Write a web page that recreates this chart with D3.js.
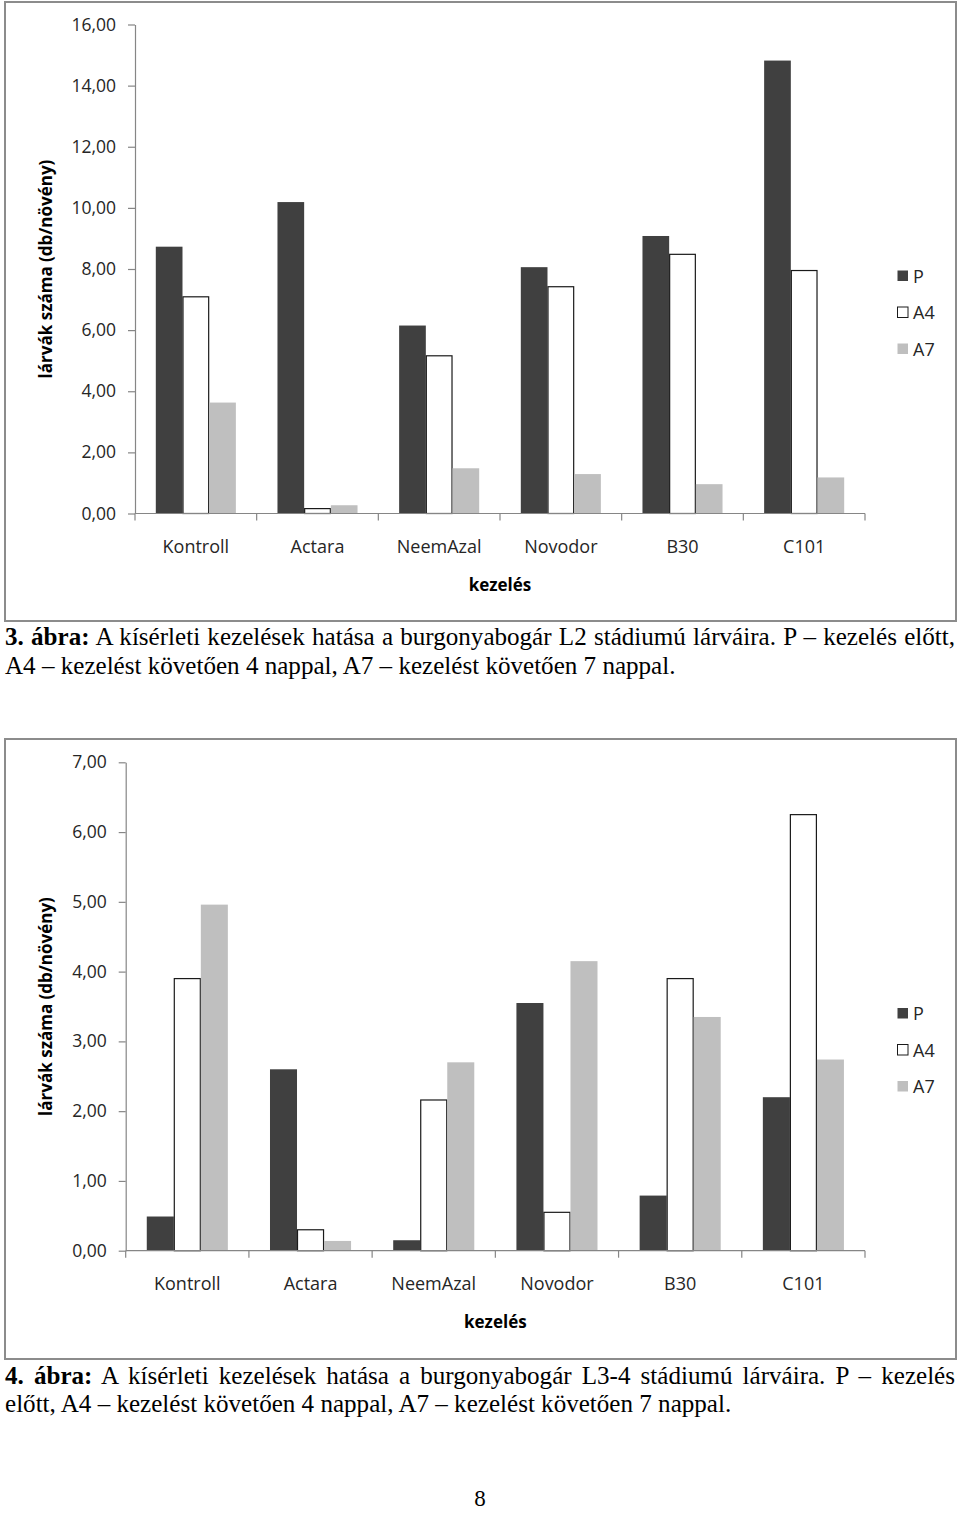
<!DOCTYPE html>
<html>
<head>
<meta charset="utf-8">
<script src="https://cdn.jsdelivr.net/npm/d3@7"></script>
<style>
  html, body { margin: 0; padding: 0; background: #fff; }
  svg { display: block; }
</style>
</head>
<body>
<svg id="page" width="960" height="1513"></svg>
<script>
// ---------- DATA ----------
const categories = ["Kontroll", "Actara", "NeemAzal", "Novodor", "B30", "C101"];
const seriesNames = ["P", "A4", "A7"];

// 3. ábra (L2 stádium)
const fig3P  = [8.73, 10.19, 6.15, 8.06, 9.08, 14.82];
const fig3A4 = [7.09, 0.16, 5.16, 7.42, 8.48, 7.95];
const fig3A7 = [3.63, 0.27, 1.48, 1.29, 0.96, 1.18];
const fig3Ticks = [0, 2, 4, 6, 8, 10, 12, 14, 16];

// 4. ábra (L3-4 stádium)
const fig4P  = [0.49, 2.60, 0.15, 3.55, 0.79, 2.20];
const fig4A4 = [3.90, 0.30, 2.16, 0.55, 3.90, 6.25];
const fig4A7 = [4.96, 0.14, 2.70, 4.15, 3.35, 2.74];
const fig4Ticks = [0, 1, 2, 3, 4, 5, 6, 7];

const yTitle = "lárvák száma (db/növény)";
const xTitle = "kezelés";

const caption3 = [
  { bold: "3. ábra:", text: " A kísérleti kezelések hatása a burgonyabogár L2 stádiumú lárváira. P – kezelés előtt,", justify: true },
  { bold: "", text: "A4 – kezelést követően 4 nappal, A7 – kezelést követően 7 nappal.", justify: false }
];
const caption4 = [
  { bold: "4. ábra:", text: " A kísérleti kezelések hatása a burgonyabogár L3-4 stádiumú lárváira. P – kezelés", justify: true },
  { bold: "", text: "előtt, A4 – kezelést követően 4 nappal, A7 – kezelést követően 7 nappal.", justify: false }
];
const pageNumber = "8";

// ---------- STYLE ----------
const colors = { P: "#404040", A4: "#ffffff", A7: "#bfbfbf" };
const strokes = { P: "none", A4: "#1a1a1a", A7: "none" };
const axisColor = "#868686";
const textColor = "#262626";
const chartFont = "'Open Sans', 'Noto Sans', sans-serif";
const serifFont = "'Liberation Serif', 'DejaVu Serif', serif";

const svg = d3.select("#page");
const fmt = v => d3.format(".2f")(v).replace(".", ",");

function drawChart(cfg) {
  const g = svg.append("g");
  // frame
  g.append("rect")
    .attr("x", cfg.frame.x).attr("y", cfg.frame.y)
    .attr("width", cfg.frame.w).attr("height", cfg.frame.h)
    .attr("fill", "#fff").attr("stroke", "#8c8c8c").attr("stroke-width", 2);

  const x0 = d3.scaleBand().domain(categories).range([cfg.left, cfg.right]).paddingInner(0).paddingOuter(0);
  const gapHalf = x0.bandwidth() * 0.171;
  const x1 = d3.scaleBand().domain(seriesNames).range([gapHalf, x0.bandwidth() - gapHalf]).padding(0);
  const y = d3.scaleLinear().domain([0, d3.max(cfg.ticks)]).range([cfg.bottom, cfg.top]);

  const rows = categories.map((c, i) => ({
    cat: c,
    vals: seriesNames.map(s => ({ s, v: cfg.series[s][i] }))
  }));

  // bars
  const grp = g.append("g").selectAll("g").data(rows).join("g")
    .attr("transform", d => `translate(${x0(d.cat)},0)`);
  grp.selectAll("rect").data(d => d.vals).join("rect")
    .attr("x", d => x1(d.s) + (d.s === "A4" ? 0.5 : 0))
    .attr("y", d => y(d.v))
    .attr("width", d => x1.bandwidth() - (d.s === "A4" ? 1 : 0))
    .attr("height", d => y(0) - y(d.v))
    .attr("fill", d => colors[d.s])
    .attr("stroke", d => strokes[d.s])
    .attr("stroke-width", 1.2);

  // y axis
  const yAxis = g.append("g").attr("transform", `translate(${cfg.left},0)`)
    .call(d3.axisLeft(y).tickValues(cfg.ticks).tickFormat(fmt).tickSize(7).tickSizeOuter(0).tickPadding(12));
  yAxis.selectAll("path,line").attr("stroke", axisColor).attr("stroke-width", 1.2);
  yAxis.selectAll("text").attr("font-family", chartFont).attr("font-size", 17.5).attr("fill", textColor);

  // x axis line and boundary ticks
  const xg = g.append("g");
  xg.append("line").attr("x1", cfg.left).attr("x2", cfg.right)
    .attr("y1", y(0)).attr("y2", y(0)).attr("stroke", axisColor).attr("stroke-width", 1.2);
  const bounds = categories.map(c => x0(c)).concat([x0(categories[categories.length - 1]) + x0.bandwidth()]);
  xg.selectAll("line.tk").data(bounds).join("line").attr("class", "tk")
    .attr("x1", d => d).attr("x2", d => d)
    .attr("y1", y(0)).attr("y2", y(0) + 7)
    .attr("stroke", axisColor).attr("stroke-width", 1.2);
  xg.selectAll("text.cat").data(categories).join("text").attr("class", "cat")
    .attr("x", d => x0(d) + x0.bandwidth() / 2)
    .attr("y", y(0) + 39)
    .attr("text-anchor", "middle")
    .attr("font-family", chartFont).attr("font-size", 18).attr("fill", textColor)
    .text(d => d);

  // axis titles
  g.append("text")
    .attr("x", (cfg.left + cfg.right) / 2).attr("y", y(0) + 77.5)
    .attr("text-anchor", "middle")
    .attr("font-family", chartFont).attr("font-size", 17).attr("font-weight", "bold").attr("fill", "#000")
    .text(xTitle);
  g.append("text")
    .attr("transform", `translate(${cfg.titleX},${(cfg.top + cfg.bottom) / 2}) rotate(-90)`)
    .attr("text-anchor", "middle")
    .attr("font-family", chartFont).attr("font-size", 17).attr("font-weight", "bold").attr("fill", "#000")
    .text(yTitle);

  // legend
  const lg = g.append("g").selectAll("g").data(seriesNames).join("g")
    .attr("transform", (d, i) => `translate(897,${cfg.legendY + i * 36.5})`);
  lg.append("rect").attr("x", 0.5).attr("y", -5.5).attr("width", 10.5).attr("height", 10.5)
    .attr("fill", d => colors[d]).attr("stroke", d => strokes[d]).attr("stroke-width", 1);
  lg.append("text").attr("x", 16).attr("y", 6.5)
    .attr("font-family", chartFont).attr("font-size", 18).attr("fill", textColor)
    .text(d => d);
}

drawChart({
  frame: { x: 5, y: 2, w: 951, h: 619 },
  left: 135, right: 865, top: 24.5, bottom: 513.5,
  ticks: fig3Ticks,
  series: { P: fig3P, A4: fig3A4, A7: fig3A7 },
  titleX: 52, legendY: 276
});

drawChart({
  frame: { x: 5, y: 739, w: 951, h: 620 },
  left: 125.7, right: 865, top: 762.3, bottom: 1250.7,
  ticks: fig4Ticks,
  series: { P: fig4P, A4: fig4A4, A7: fig4A7 },
  titleX: 52, legendY: 1013.5
});

// captions (slightly condensed Times-like text, first line justified with word spacing)
const capScale = 0.965;
function drawCaption(lines, baselines) {
  lines.forEach((ln, i) => {
    const t = svg.append("text")
      .attr("transform", `translate(5,${baselines[i]}) scale(${capScale},1)`)
      .attr("font-family", serifFont).attr("font-size", 26).attr("fill", "#000");
    if (ln.bold) t.append("tspan").attr("font-weight", "bold").text(ln.bold);
    t.append("tspan").text(ln.text);
    if (ln.justify) {
      const full = (ln.bold + ln.text);
      const spaces = (full.match(/ /g) || []).length;
      const w = t.node().getComputedTextLength();
      const target = 950 / capScale;
      t.attr("word-spacing", (target - w) / spaces);
    }
  });
}
drawCaption(caption3, [645, 673.5]);
drawCaption(caption4, [1384, 1412]);

svg.append("text").attr("x", 480).attr("y", 1506).attr("text-anchor", "middle")
  .attr("font-family", serifFont).attr("font-size", 23).attr("fill", "#000")
  .text(pageNumber);
</script>
</body>
</html>
